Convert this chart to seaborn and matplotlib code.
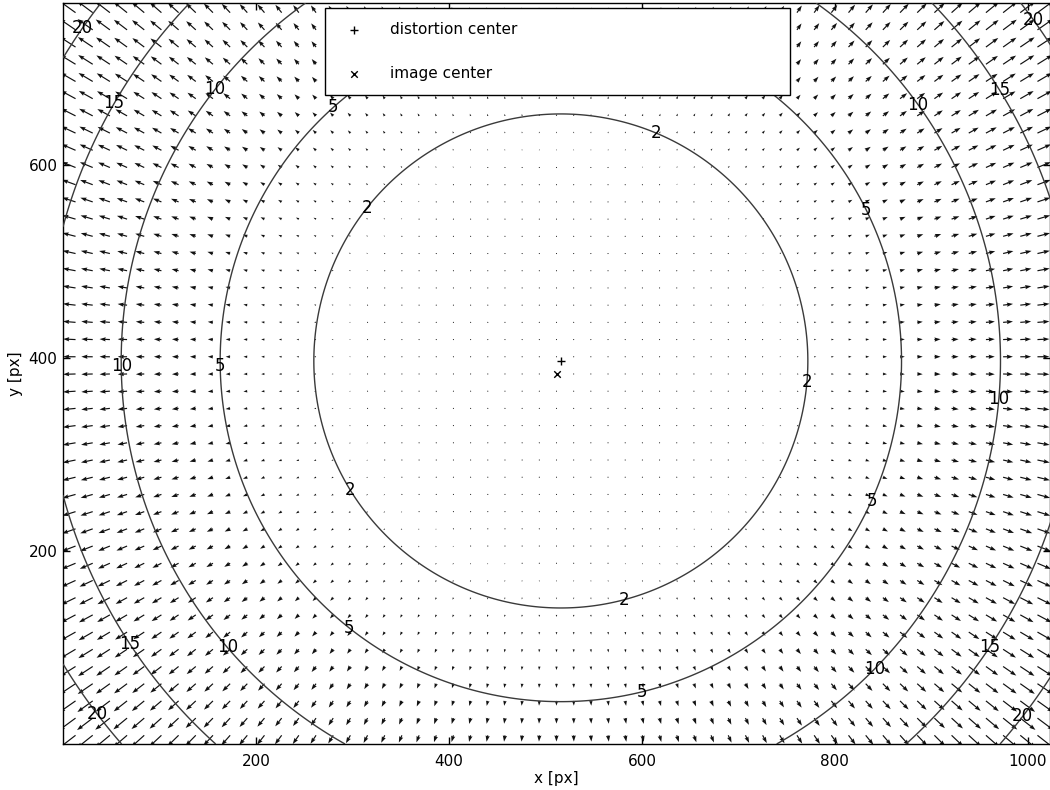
import numpy as np
import matplotlib
matplotlib.use("Agg")
import matplotlib.pyplot as plt
import seaborn as sns

# Sensor geometry (pixels)
image_size = [1024, 768]
image_center = [511.5, 383.5]
distortion_center = [516.0, 397.0]

# Radial distortion displacement d(r) = k3 * r^3 + k5 * r^5 (r in px)
radial_coeffs = [1.2541e-7, -9.499e-14]

# Sampling grid for the displacement arrows
grid_x = np.linspace(13, 1010, 57)
grid_y = np.linspace(9, 758, 43)

# Iso-displacement levels (px)
contour_levels = [2, 5, 10, 15, 20]

# Where each level gets its labels
label_spots = [
    (614.6, 634.3), (312.0, 557.6), (770.1, 375.2), (296.4, 262.2), (581.5, 151.3),
    (278.8, 661.3), (832.3, 553.5), (162.7, 391.8), (836.5, 252.9), (297.5, 121.3), (599.1, 56.0),
    (158.6, 677.9), (884.1, 661.3), (62.2, 391.8), (966.0, 357.6), (173.1, 102.6), (838.5, 80.8),
    (53.9, 663.4), (968.1, 675.8), (71.5, 105.7), (956.7, 102.6),
    (9.3, 749.4), (1009.5, 753.5), (33.2, 30.1), (994.0, 29.0),
]


def displacement(x, y):
    dx = x - distortion_center[0]
    dy = y - distortion_center[1]
    r = np.hypot(dx, dy)
    d = radial_coeffs[0] * r**3 + radial_coeffs[1] * r**5
    with np.errstate(invalid="ignore", divide="ignore"):
        ux = np.where(r > 0, dx / r, 0.0) * d
        uy = np.where(r > 0, dy / r, 0.0) * d
    return ux, uy, d


sns.set_style("ticks", {
    "axes.edgecolor": "black",
    "xtick.direction": "in",
    "ytick.direction": "in",
    "xtick.color": "black",
    "ytick.color": "black",
    "text.color": "black",
    "axes.labelcolor": "black",
})
plt.rcParams["font.family"] = ["DejaVu Sans"]

fig = plt.figure(figsize=(10.5, 7.9), dpi=100)
ax = fig.add_axes([63 / 1050, 46 / 790, 987 / 1050, 741 / 790])

# Displacement arrows
X, Y = np.meshgrid(grid_x, grid_y)
U, V, _ = displacement(X, Y)
ax.quiver(X, Y, U, V, angles="xy", scale_units="xy", scale=1,
          color="#111111", width=0.0012, headwidth=3.6, headlength=5.2,
          headaxislength=4.7, zorder=2)

# Iso-displacement contours
fx = np.linspace(0, image_size[0], 520)
fy = np.linspace(0, image_size[1], 400)
FX, FY = np.meshgrid(fx, fy)
_, _, D = displacement(FX, FY)
cs = ax.contour(FX, FY, D, levels=contour_levels, colors="#3a3a3a",
                linewidths=1.0, zorder=3)
labels = ax.clabel(cs, contour_levels, inline=False, fontsize=12, fmt="%d",
                   colors="black", manual=label_spots)
for t in labels:
    t.set_rotation(0)

# Centers
sns.scatterplot(x=[distortion_center[0]], y=[distortion_center[1]], marker="+",
                s=40, color="black", linewidth=1.0, label="distortion center",
                ax=ax, zorder=5)
sns.scatterplot(x=[image_center[0]], y=[image_center[1]], marker="x",
                s=22, color="black", linewidth=1.0, label="image center",
                ax=ax, zorder=5)

ax.set_xlim(0, image_size[0] - 1)
ax.set_ylim(0, image_size[1])
ax.set_xticks([200, 400, 600, 800, 1000])
ax.set_yticks([200, 400, 600])
ax.tick_params(axis="both", which="both", top=True, right=True, length=5,
               width=1, labelsize=11)
ax.tick_params(axis="x", pad=7)
ax.tick_params(axis="y", pad=4)
ax.set_xlabel("x [px]", fontsize=11, labelpad=2)
ax.set_ylabel("y [px]", fontsize=11, labelpad=4)
for sp in ax.spines.values():
    sp.set_linewidth(1.0)
    sp.set_color("black")

leg = ax.legend(loc="upper left", bbox_to_anchor=(0.2654, 0.8785, 0.471, 0.1148),
                mode="expand", borderaxespad=0, fontsize=11, labelspacing=1.85,
                borderpad=0.95, handlelength=1.9, handletextpad=1.4,
                fancybox=False, framealpha=1, edgecolor="black", scatterpoints=1)
leg.get_frame().set_linewidth(1.0)

fig.savefig("out.png", dpi=100)
